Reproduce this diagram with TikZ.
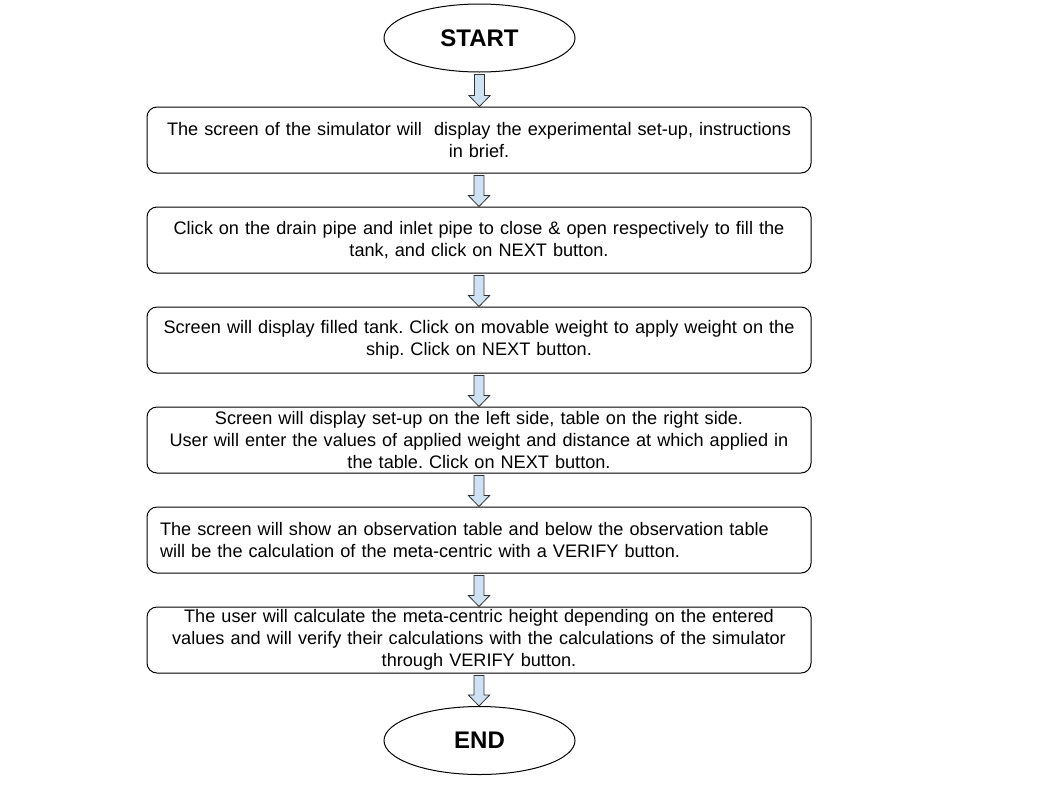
\documentclass[tikz,border=0pt]{standalone}
\usepackage{fontspec}
\setmainfont{Liberation Sans}
\usetikzlibrary{shapes.geometric,calc}
\definecolor{arrowfill}{RGB}{207,226,243}
\frenchspacing
\tikzset{
  px/.style={x=0.75pt,y=-0.75pt},
  stepbox/.style={draw=black,line width=0.75pt,rounded corners=7.5pt,
    minimum width=498pt,minimum height=49.5pt,inner xsep=3pt,inner ysep=0pt,
    text width=492pt,align=center,font=\fontsize{13.6pt}{16.5pt}\selectfont},
  leftbox/.style={stepbox,align=left,inner xsep=9.75pt,text width=478.5pt},
  termnode/.style={draw=black,line width=0.75pt,ellipse,minimum width=143.25pt,
    minimum height=51pt,inner sep=0pt,font=\fontsize{18pt}{21pt}\selectfont\bfseries},
  blockarr/.style={draw=black!80,line width=0.6pt,fill=arrowfill,line join=miter}
}
\newcommand\blockarrow[2]{%
  \filldraw[blockarr] let \p1=($(#1.south)+(0,2)$), \p2=(#2.north) in
    (\x1-3.75pt,\y1) -- (\x1+3.75pt,\y1) -- (\x1+3.75pt,\y2+8.25pt) --
    (\x1+8pt,\y2+8.25pt) -- (\x1,\y2) -- (\x1-8pt,\y2+8.25pt) --
    (\x1-3.75pt,\y2+8.25pt) -- cycle;}
\begin{document}
\begin{tikzpicture}[px]
\useasboundingbox (0,0) rectangle (1037,786);
\node[termnode] (start) at (479.5,38) {START};
\node[stepbox] (b1) at (479,140) {The screen of the simulator will~ display the experimental set-up, instructions\\in brief.};
\node[stepbox] (b2) at (479,240) {Click on the drain pipe and inlet pipe to close \& open respectively to fill the\\tank, and click on NEXT button.};
\node[stepbox] (b3) at (479,340) {Screen will display filled tank. Click on movable weight to apply weight on the\\ship. Click on NEXT button.};
\node[stepbox] (b4) at (479,440) {Screen will display set-up on the left side, table on the right side.\\User will enter the values of applied weight and distance at which applied in\\the table. Click on NEXT button.};
\node[leftbox] (b5) at (479,540) {The screen will show an observation table and below the observation table\\will be the calculation of the meta-centric with a VERIFY button.};
\node[stepbox] (b6) at (479,640) {The user will calculate the meta-centric height depending on the entered\\values and will verify their calculations with the calculations of the simulator\\through VERIFY button.};
\node[termnode] (end) at (479.5,740.5) {END};
\blockarrow{start}{b1}
\blockarrow{b1}{b2}
\blockarrow{b2}{b3}
\blockarrow{b3}{b4}
\blockarrow{b4}{b5}
\blockarrow{b5}{b6}
\blockarrow{b6}{end}
\end{tikzpicture}
\end{document}
